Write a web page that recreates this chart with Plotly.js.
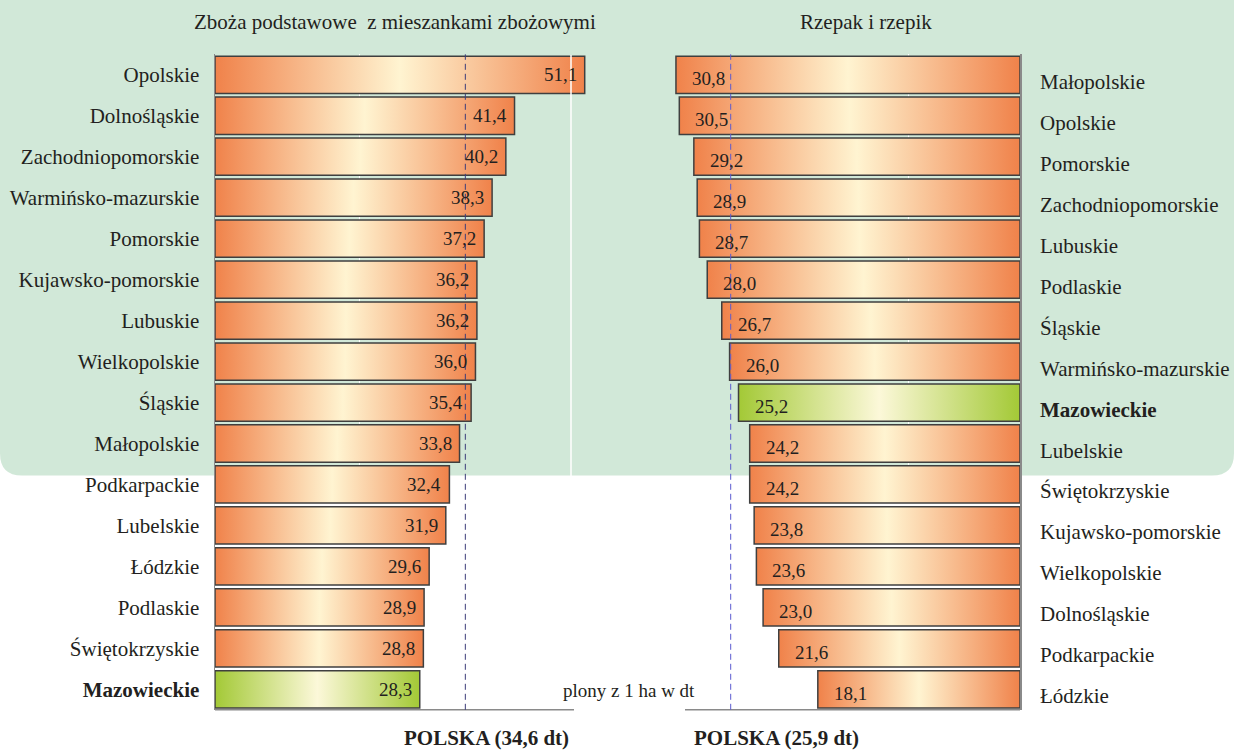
<!DOCTYPE html>
<html>
<head>
<meta charset="utf-8">
<script src="https://cdn.plot.ly/plotly-3.0.1.min.js"></script>
<style>html,body{margin:0;padding:0;background:#fff}#chart{width:1234px;height:751px}</style>
</head>
<body>
<div id="chart"></div>
<script>
// ---- Data ----
const leftTitle = 'Zboża podstawowe\u00a0 z mieszankami zbożowymi';
const leftCategories = ['Opolskie','Dolnośląskie','Zachodniopomorskie','Warmińsko-mazurskie','Pomorskie','Kujawsko-pomorskie','Lubuskie','Wielkopolskie','Śląskie','Małopolskie','Podkarpackie','Lubelskie','Łódzkie','Podlaskie','Świętokrzyskie','Mazowieckie'];
const leftValues = [51.1,41.4,40.2,38.3,37.2,36.2,36.2,36.0,35.4,33.8,32.4,31.9,29.6,28.9,28.8,28.3];
const leftAverage = 34.6;

const rightTitle = 'Rzepak i rzepik';
const rightCategories = ['Małopolskie','Opolskie','Pomorskie','Zachodniopomorskie','Lubuskie','Podlaskie','Śląskie','Warmińsko-mazurskie','Mazowieckie','Lubelskie','Świętokrzyskie','Kujawsko-pomorskie','Wielkopolskie','Dolnośląskie','Podkarpackie','Łódzkie'];
const rightValues = [30.8,30.5,29.2,28.9,28.7,28.0,26.7,26.0,25.2,24.2,24.2,23.8,23.6,23.0,21.6,18.1];
const rightAverage = 25.9;

const highlight = 'Mazowieckie';
const unitNote = 'plony z 1 ha w dt';
const polskaLabel = v => 'POLSKA (' + fmt(v) + ' dt)';

// ---- Helpers ----
function fmt(v){ return v.toFixed(1).replace('.', ','); }
const W = 1234, H = 751;
const px = x => x / W;
const py = y => 1 - y / H;
const FONT = 'Liberation Serif, Times New Roman, serif';
const TXT = '#231f20';
const orangeScale = [[0,'#f0824a'],[0.5,'#fff4d1'],[1,'#f0824a']];
const greenScale  = [[0,'#a3c936'],[0.5,'#fcf8d9'],[1,'#a3c936']];
const half = 0.455;

const traces = [];
function addBars(cats, vals, xa, ya){
  vals.forEach((v, i) => {
    const isHi = cats[i] === highlight;
    traces.push({
      type:'scatter', mode:'lines', xaxis:xa, yaxis:ya,
      x:[0, v, v, 0, 0], y:[i-half, i-half, i+half, i+half, i-half],
      fill:'toself',
      fillgradient:{type:'horizontal', colorscale: isHi ? greenScale : orangeScale},
      line:{color:'#3f3f3f', width:1.5},
      hoverinfo:'skip', showlegend:false
    });
  });
}
addBars(leftCategories, leftValues, 'x', 'y');
addBars(rightCategories, rightValues, 'x2', 'y2');

const idx = leftCategories.map((_, i) => i);
const yDomain = [py(709.8), py(54.3)];

const annotations = [];
leftValues.forEach((v, i) => annotations.push({
  xref:'x', yref:'y', x:v, y:i, text:fmt(v), showarrow:false,
  xanchor:'right', xshift:-6, font:{family:FONT, size:19, color:TXT}
}));
rightValues.forEach((v, i) => annotations.push({
  xref:'x2', yref:'y2', x:v, y:i, text:fmt(v), showarrow:false,
  xanchor:'left', xshift:14, yshift:-4, font:{family:FONT, size:19, color:TXT}
}));
rightCategories.forEach((c, i) => annotations.push({
  xref:'paper', yref:'y2', x:px(1038), y:i, yshift:-7,
  text: c === highlight ? '<b>' + c + '</b>' : c, showarrow:false,
  xanchor:'left', font:{family:FONT, size:21, color:TXT}
}));
annotations.push(
  {xref:'paper', yref:'paper', x:px(395), y:py(22), text:leftTitle, showarrow:false, xanchor:'center', yanchor:'middle', font:{family:FONT, size:21, color:TXT}},
  {xref:'paper', yref:'paper', x:px(866), y:py(22), text:rightTitle, showarrow:false, xanchor:'center', yanchor:'middle', font:{family:FONT, size:21, color:TXT}},
  {xref:'paper', yref:'paper', x:px(486), y:0, text:'<b>' + polskaLabel(leftAverage) + '</b>', showarrow:false, xanchor:'center', yanchor:'bottom', borderpad:0, font:{family:FONT, size:21, color:TXT}},
  {xref:'paper', yref:'paper', x:px(776), y:0, text:'<b>' + polskaLabel(rightAverage) + '</b>', showarrow:false, xanchor:'center', yanchor:'bottom', borderpad:0, font:{family:FONT, size:21, color:TXT}},
  {xref:'paper', yref:'paper', x:px(629), y:py(690), text:unitNote, showarrow:false, xanchor:'center', yanchor:'middle', font:{family:FONT, size:19, color:TXT}}
);

// green rounded background
const gy = py(475.5), rx = px(22), ry = 22 / H;
const bgPath = `M 0 1 L 1 1 L 1 ${gy+ry} Q 1 ${gy} ${1-rx} ${gy} L ${rx} ${gy} Q 0 ${gy} 0 ${gy+ry} Z`;

const shapes = [
  {type:'path', xref:'paper', yref:'paper', path:bgPath, fillcolor:'#d1e8d8', line:{width:0}, layer:'below'},
  {type:'line', xref:'paper', yref:'paper', x0:px(571), x1:px(571), y0:py(709), y1:py(55), line:{color:'#ffffff', width:1.5}, layer:'above'},
  {type:'line', xref:'paper', yref:'paper', x0:px(215), x1:px(574), y0:yDomain[0], y1:yDomain[0], line:{color:'#8a8a8a', width:1.5}, layer:'above'},
  {type:'line', xref:'paper', yref:'paper', x0:px(685), x1:px(1020), y0:yDomain[0], y1:yDomain[0], line:{color:'#8a8a8a', width:1.5}, layer:'above'},
  {type:'line', xref:'x', yref:'paper', x0:leftAverage, x1:leftAverage, y0:yDomain[0], y1:yDomain[1], line:{color:'#3d3d7a', width:1, dash:'6px,4px'}, layer:'above'},
  {type:'line', xref:'x2', yref:'paper', x0:rightAverage, x1:rightAverage, y0:yDomain[0], y1:yDomain[1], line:{color:'#5b5bd0', width:1, dash:'6px,4px'}, layer:'above'}
];

const layout = {
  width:W, height:H, margin:{l:0, r:0, t:0, b:0},
  paper_bgcolor:'#ffffff', plot_bgcolor:'rgba(0,0,0,0)',
  showlegend:false,
  font:{family:FONT, color:TXT},
  xaxis:{domain:[px(215), px(615)], range:[0, 400/7.235], anchor:'y',
    tickvals:[20], showticklabels:false, ticks:'', showgrid:true, gridcolor:'#ffffff', gridwidth:1,
    zeroline:false, showline:false, fixedrange:true},
  yaxis:{domain:yDomain, range:[15.5, -0.5], anchor:'x',
    tickvals:idx, ticktext:leftCategories.map(c => c === highlight ? '<b>' + c + '</b>' : c),
    ticks:'', ticklabelstandoff:10, showgrid:false, zeroline:false,
    showline:true, linecolor:'#8a8a8a', linewidth:1.5,
    tickfont:{family:FONT, size:21, color:TXT}, fixedrange:true},
  xaxis2:{domain:[px(640), px(1020)], range:[380/11.17, 0], anchor:'y2',
    tickvals:[10], showticklabels:false, ticks:'', showgrid:true, gridcolor:'#ffffff', gridwidth:1,
    zeroline:false, showline:false, fixedrange:true},
  yaxis2:{domain:yDomain, range:[15.5, -0.5], anchor:'x2', side:'right',
    tickvals:idx, showticklabels:false, ticks:'', showgrid:false, zeroline:false,
    showline:true, linecolor:'#8a8a8a', linewidth:1.5, fixedrange:true},
  shapes:shapes,
  annotations:annotations
};

Plotly.newPlot('chart', traces, layout, {displayModeBar:false, staticPlot:true});
</script>
</body>
</html>
